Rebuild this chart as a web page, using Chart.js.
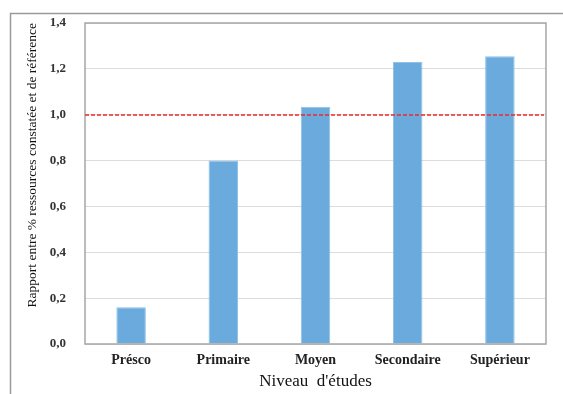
<!DOCTYPE html>
<html>
<head>
<meta charset="utf-8">
<script src="https://cdn.jsdelivr.net/npm/chart.js@4/dist/chart.umd.min.js"></script>
<style>
html,body{margin:0;padding:0;background:#fff;}
#wrap{position:relative;width:563px;height:394px;}
</style>
</head>
<body>
<div id="wrap"><canvas id="c" width="563" height="394"></canvas></div>
<script>
const categories = ['Présco', 'Primaire', 'Moyen', 'Secondaire', 'Supérieur'];
const ratios = [0.16, 0.80, 1.035, 1.23, 1.255];
const yTicks = [0, 0.2, 0.4, 0.6, 0.8, 1.0, 1.2, 1.4];
const referenceLevel = [1.0];
const xTitle = "Niveau  d'études";
const yTitle = 'Rapport entre % ressources constatée et de référence';

const framePlugin = {
  id: 'frame',
  beforeDraw(chart) {
    const ctx = chart.ctx;
    ctx.save();
    ctx.fillStyle = '#fff';
    ctx.fillRect(0, 0, chart.width, chart.height);
    ctx.strokeStyle = '#9a9a9a';
    ctx.lineWidth = 1.5;
    ctx.beginPath();
    ctx.moveTo(10.5, chart.height);
    ctx.lineTo(10.5, 13.5);
    ctx.lineTo(chart.width, 13.5);
    ctx.stroke();
    ctx.restore();
  },
  afterDraw(chart) {
    const ctx = chart.ctx;
    const a = chart.chartArea;
    const y = chart.scales.y;
    ctx.save();
    ctx.globalAlpha = 1;
    ctx.globalCompositeOperation = 'source-over';
    ctx.strokeStyle = '#a6a6a6';
    ctx.lineWidth = 1.5;
    ctx.strokeRect(a.left, a.top, a.right - a.left, a.bottom - a.top);
    ctx.strokeStyle = 'rgb(240,40,40)';
    ctx.lineWidth = 1.5;
    ctx.setLineDash([4, 2]);
    const py = Math.round(y.getPixelForValue(referenceLevel[0]));
    ctx.beginPath();
    ctx.moveTo(a.left, py);
    ctx.lineTo(a.right - 2, py);
    ctx.stroke();
    ctx.restore();
  }
};

new Chart(document.getElementById('c'), {
  type: 'bar',
  data: {
    labels: categories,
    datasets: [{
      data: ratios,
      backgroundColor: '#6BAADC',
      borderColor: '#8EC0E8',
      borderWidth: 1,
      categoryPercentage: 1,
      barPercentage: 0.32
    }]
  },
  options: {
    responsive: false,
    animation: false,
    events: [],
    layout: { padding: { left: 24, top: 23, right: 17, bottom: 2 } },
    plugins: { legend: { display: false }, tooltip: { enabled: false } },
    scales: {
      x: {
        grid: { display: false, drawTicks: false },
        border: { display: false },
        ticks: { color: '#222', padding: 8, font: { family: 'Liberation Serif', size: 14, weight: 'bold' }, maxRotation: 0 },
        title: { display: true, text: xTitle, color: '#111', padding: { top: 2, bottom: 0 }, font: { family: 'Liberation Serif', size: 17 } },
        afterFit(s) { s.height = 48; s.paddingLeft = 0; s.paddingRight = 0; }
      },
      y: {
        min: 0, max: 1.4,
        afterBuildTicks(s) { s.ticks = yTicks.map(v => ({ value: v })); },
        grid: { color: '#dcdcdc', lineWidth: 1, drawTicks: false },
        border: { display: false },
        ticks: {
          color: '#333', padding: 19,
          font: { family: 'Liberation Serif', size: 13, weight: 'bold' },
          callback: v => v.toFixed(1).replace('.', ',')
        },
        title: { display: true, align: 'end', text: yTitle, color: '#111', padding: { top: 0, bottom: 4 }, font: { family: 'Liberation Serif', size: 13.5 } },
        afterFit(s) { s.width = 61; s.paddingTop = 0; s.paddingBottom = 0; }
      }
    }
  },
  plugins: [framePlugin]
});
</script>
</body>
</html>
